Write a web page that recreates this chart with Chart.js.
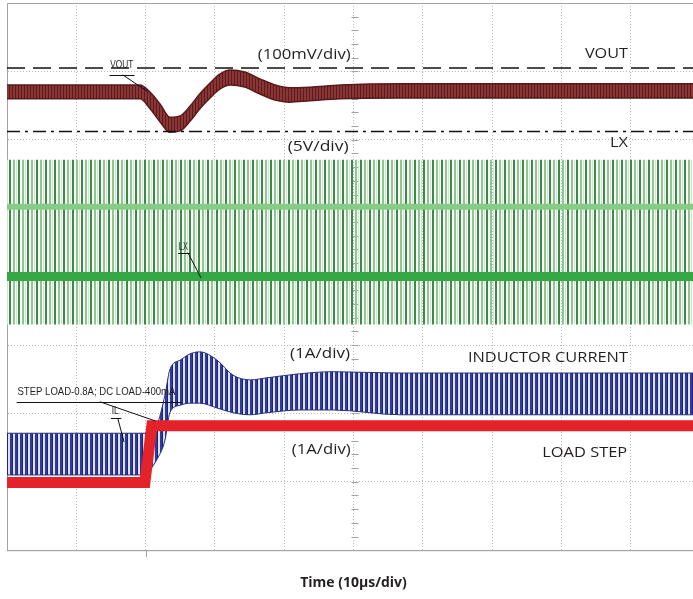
<!DOCTYPE html>
<html lang="en">
<head>
<meta charset="UTF-8">
<title>Load step response</title>
<script src="https://cdn.jsdelivr.net/npm/chart.js@4"></script>
<style>
  html, body { margin: 0; padding: 0; background: #fff; overflow: hidden; }
  #wrap { width: 712px; height: 599px; }
</style>
</head>
<body>
<div id="wrap"><canvas id="scope" width="712" height="599"></canvas></div>
<script>
// time in µs (10 µs/div), amplitude in screen divisions (8 div tall, 0 = centre line)

// VOUT trace, upper and lower edge of the noise band
const vTime = [0, 19.2, 20.6, 22.1, 23.5, 25.0, 26.4, 27.8, 29.3, 30.7, 32.2, 34.3, 36.5, 38.7, 40.8, 43.7, 48.1, 56.7, 99];
const vTop  = [2.80, 2.80, 2.70, 2.52, 2.33, 2.35, 2.49, 2.67, 2.83, 2.96, 3.02, 2.99, 2.89, 2.80, 2.76, 2.77, 2.80, 2.82, 2.82];
const vBot  = [2.60, 2.60, 2.46, 2.26, 2.11, 2.13, 2.27, 2.45, 2.61, 2.74, 2.80, 2.77, 2.67, 2.58, 2.55, 2.57, 2.60, 2.61, 2.61];

// VOUT cursors (dashed / dash-dot)
const cursorTime = [0, 100];
const cursorHigh = [3.05, 3.05];
const cursorLow  = [2.12, 2.12];

// LX switch node: spike envelope and the two switching levels
const lxTime     = [0, 99];
const lxSpikeTop = [1.71, 1.71];
const lxSpikeBot = [-0.70, -0.70];
const lxHigh     = [1.02, 1.02];
const lxLow      = [0.0, 0.0];

// inductor current ripple envelope
const ilTime = [0, 19.9, 20.6, 21.6, 22.8, 23.5, 25.0, 26.4, 27.8, 30.3, 32.6, 35.1, 37.5, 42.3, 47.0, 56.7, 71.1, 85.6, 99];
const ilTop  = [-2.29, -2.29, -2.24, -2.17, -1.73, -1.36, -1.22, -1.13, -1.10, -1.22, -1.44, -1.51, -1.48, -1.42, -1.39, -1.41, -1.41, -1.41, -1.41];
const ilBot  = [-2.90, -2.90, -2.83, -2.68, -2.39, -1.99, -1.88, -1.85, -1.85, -1.92, -1.99, -2.02, -1.99, -1.95, -1.95, -2.02, -2.02, -2.02, -2.02];

// load step
const stepTime  = [0, 19.9, 20.9, 99];
const stepLevel = [-3.01, -3.01, -2.18, -2.18];

const triggerTime = 20;

function pts(xs, ys) {
    return xs.map((x, i) => ({ x: x, y: ys[i] }));
}

// vertical stripe textures for the dense switching traces
function stripes(w, bands) {
    const c = document.createElement('canvas');
    c.width = w; c.height = 4;
    const g = c.getContext('2d');
    bands.forEach(b => { g.fillStyle = b[2]; g.fillRect(b[0], 0, b[1], 4); });
    return g.createPattern(c, 'repeat');
}

const ink = '#231f20';

// text labels, placed in data coordinates
const notes = [
    { text: '(100mV/div)', t: 49.6, v: 3.25, w: 93 },
    { text: 'VOUT', t: 89.6, v: 3.26, w: 43 },
    { text: '(5V/div)', t: 49.3, v: 1.90, w: 61 },
    { text: 'LX', t: 89.6, v: 1.95, w: 18 },
    { text: '(1A/div)', t: 49.5, v: -1.13, w: 60 },
    { text: 'INDUCTOR CURRENT', t: 89.6, v: -1.18, w: 160 },
    { text: '(1A/div)', t: 49.6, v: -2.53, w: 59 },
    { text: 'LOAD STEP', t: 89.5, v: -2.57, w: 85 }
];

// small probe tags with underline and leader line
const tags = [
    { text: 'VOUT', t: 14.9, v: 3.09, w: 23, under: [14.8, 18.4, 2.95], lead: [16.7, 2.95, 20.2, 2.71] },
    { text: 'LX', t: 24.8, v: 0.44, w: 9, under: [24.7, 26.4, 0.35], lead: [26.1, 0.35, 28.0, -0.02] },
    { text: 'STEP LOAD-0.8A; DC LOAD-400mA', t: 1.5, v: -1.69, w: 158, under: [1.4, 25.2, -1.83], lead: [13.4, -1.83, 21.4, -2.11] },
    { text: 'IL', t: 15.1, v: -1.96, w: 7, under: [15.0, 16.5, -2.07], lead: [16.0, -2.08, 16.9, -2.42] }
];

function fitText(ctx, text, px, py, align, w) {
    const m = ctx.measureText(text).width;
    const k = w / m;
    ctx.save();
    ctx.translate(align === 'right' ? px - w : px, py);
    ctx.scale(k, 1);
    ctx.fillText(text, 0, 0);
    ctx.restore();
}

const scopeExtras = {
    id: 'scopeExtras',
    beforeDatasetsDraw(chart) {
        const { ctx, chartArea: a, scales: { x, y } } = chart;
        ctx.save();
        ctx.strokeStyle = '#a3a3a3';
        ctx.lineWidth = 1;
        ctx.strokeRect(a.left + 0.5, a.top + 0.5, a.right - a.left, a.bottom - a.top);
        const cx = Math.round(x.getPixelForValue(50)) + 0.5;
        const cy = Math.round(y.getPixelForValue(0)) + 0.5;
        ctx.beginPath();
        for (let v = -4; v <= 4.001; v += 0.2) {
            const py = Math.round(y.getPixelForValue(v)) + 0.5;
            ctx.moveTo(cx - 3, py); ctx.lineTo(cx + 4, py);
        }
        for (let t = 0; t <= 100.001; t += 2) {
            const px = Math.round(x.getPixelForValue(t)) + 0.5;
            ctx.moveTo(px, cy - 3); ctx.lineTo(px, cy + 4);
        }
        const tx = Math.round(x.getPixelForValue(triggerTime)) + 0.5;
        ctx.moveTo(tx, a.bottom); ctx.lineTo(tx, a.bottom + 7);
        ctx.stroke();
        ctx.restore();
    },
    afterDatasetsDraw(chart) {
        const { ctx, scales: { x, y } } = chart;
        ctx.save();
        ctx.fillStyle = ink;
        ctx.textBaseline = 'middle';
        ctx.font = '15px "Open Sans"';
        notes.forEach(n => fitText(ctx, n.text, x.getPixelForValue(n.t), y.getPixelForValue(n.v), 'right', n.w));

        ctx.font = '11px "Liberation Sans Narrow", "Liberation Sans"';
        ctx.strokeStyle = '#111';
        ctx.lineWidth = 1;
        tags.forEach(g => {
            fitText(ctx, g.text, x.getPixelForValue(g.t), y.getPixelForValue(g.v), 'left', g.w);
            ctx.beginPath();
            const uy = Math.round(y.getPixelForValue(g.under[2])) + 0.5;
            ctx.moveTo(x.getPixelForValue(g.under[0]), uy);
            ctx.lineTo(x.getPixelForValue(g.under[1]), uy);
            ctx.moveTo(x.getPixelForValue(g.lead[0]), y.getPixelForValue(g.lead[1]));
            ctx.lineTo(x.getPixelForValue(g.lead[2]), y.getPixelForValue(g.lead[3]));
            ctx.stroke();
        });
        ctx.restore();
    }
};

const ctx = document.getElementById('scope').getContext('2d');

const voutTex = stripes(3, [[0, 3, '#8a3636'], [0, 1, '#5e1b1b']]);
const lxTex = stripes(9, [[0, 2, '#3a8c45'], [4, 2, '#8cc98c'], [7, 1, '#cfe9cf']]);
const ilTex = stripes(5, [[0, 2, '#2f3c9c'], [2, 1, '#1d2472'], [3, 2, '#dfe1f3']]);

new Chart(ctx, {
    type: 'line',
    data: {
        datasets: [
            { data: pts(vTime, vTop), borderColor: '#5a1a1a', borderWidth: 1.5, fill: false, order: 5 },
            { data: pts(vTime, vBot), borderColor: '#5a1a1a', borderWidth: 1.5, fill: 0, backgroundColor: voutTex, order: 5 },
            { data: pts(lxTime, lxSpikeTop), borderWidth: 0, borderColor: 'rgba(0,0,0,0)', fill: false, order: 9 },
            { data: pts(lxTime, lxSpikeBot), borderWidth: 0, borderColor: 'rgba(0,0,0,0)', fill: 2, backgroundColor: lxTex, order: 9 },
            { data: pts(lxTime, lxHigh), borderColor: '#86cc86', borderWidth: 6, fill: false, order: 8 },
            { data: pts(lxTime, lxLow), borderColor: '#35a845', borderWidth: 9, fill: false, order: 8 },
            { data: pts(ilTime, ilTop), borderColor: '#26307f', borderWidth: 1, fill: false, order: 3 },
            { data: pts(ilTime, ilBot), borderColor: '#26307f', borderWidth: 1, fill: 6, backgroundColor: ilTex, order: 3 },
            { data: pts(stepTime, stepLevel), borderColor: '#e3222a', borderWidth: 11, tension: 0, cubicInterpolationMode: 'default', fill: false, order: 1 },
            { data: pts(cursorTime, cursorHigh), borderColor: '#111', borderWidth: 1.5, borderDash: [18, 8], tension: 0, fill: false, order: 0 },
            { data: pts(cursorTime, cursorLow), borderColor: '#111', borderWidth: 1.5, borderDash: [13, 5, 3, 5], tension: 0, fill: false, order: 0 }
        ]
    },
    options: {
        responsive: false,
        animation: false,
        events: [],
        layout: { padding: { left: 7, top: 3, right: 12, bottom: 2 } },
        elements: {
            point: { radius: 0 },
            line: { tension: 0.4, cubicInterpolationMode: 'monotone' }
        },
        plugins: {
            legend: { display: false },
            tooltip: { enabled: false }
        },
        scales: {
            x: {
                type: 'linear',
                min: 0,
                max: 100,
                ticks: { display: false, stepSize: 10 },
                grid: { color: '#b8b8b8', drawTicks: false },
                border: { color: '#a3a3a3', dash: [1, 2] },
                title: {
                    display: true,
                    text: 'Time (10µs/div)',
                    color: ink,
                    font: { family: '"Open Sans"', size: 14, weight: 'bold' },
                    padding: { top: 24, bottom: 6 }
                }
            },
            y: {
                min: -4,
                max: 4,
                ticks: { display: false, stepSize: 1 },
                grid: { color: '#b8b8b8', drawTicks: false },
                border: { color: '#a3a3a3', dash: [1, 2] }
            }
        }
    },
    plugins: [scopeExtras]
});
</script>
</body>
</html>
